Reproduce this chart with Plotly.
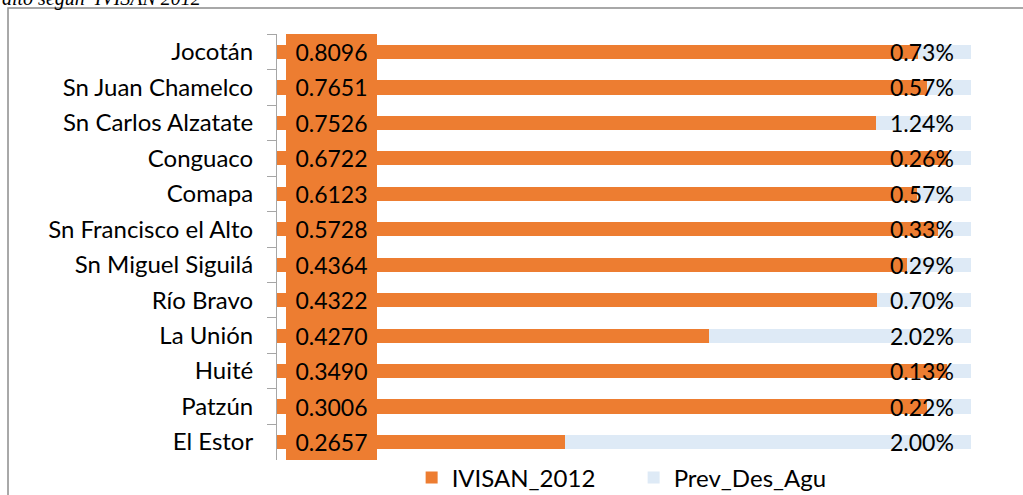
import plotly.graph_objs as go

# municipalities, top to bottom
municipios = ['Jocotán', 'Sn Juan Chamelco', 'Sn Carlos Alzatate', 'Conguaco', 'Comapa',
              'Sn Francisco el Alto', 'Sn Miguel Siguilá', 'Río Bravo', 'La Unión',
              'Huité', 'Patzún', 'El Estor']

# printed labels
ivisan_2012 = [0.8096, 0.7651, 0.7526, 0.6722, 0.6123, 0.5728, 0.4364, 0.4322,
               0.4270, 0.3490, 0.3006, 0.2657]
prev_des_agu = ['0.73%', '0.57%', '1.24%', '0.26%', '0.57%', '0.33%', '0.29%', '0.70%',
                '2.02%', '0.13%', '0.22%', '2.00%']

# bar segment shares as drawn (100% stacked)
ivisan_share = [0.924, 0.937, 0.863, 0.967, 0.922, 0.952, 0.908, 0.865, 0.622, 0.965, 0.937, 0.415]
prev_share = [0.076, 0.063, 0.137, 0.033, 0.078, 0.048, 0.092, 0.135, 0.378, 0.035, 0.063, 0.585]

ORANGE = '#ED7D31'
LIGHTBLUE = '#DEEAF6'
FONT = 'Lato'

trace_ivisan = go.Bar(
    y=municipios, x=ivisan_share, orientation='h', name='IVISAN_2012',
    marker=dict(color=ORANGE, line=dict(width=0)), hoverinfo='skip'
)
trace_prev = go.Bar(
    y=municipios, x=prev_share, orientation='h', name='Prev_Des_Agu',
    marker=dict(color=LIGHTBLUE, line=dict(width=0)), hoverinfo='skip'
)

annotations = []
for m, v, p in zip(municipios, ivisan_2012, prev_des_agu):
    # orange label boxes that form the column next to the axis
    annotations.append(dict(
        x=0.0785, y=m, xref='x', yref='y', text=f'{v:.4f}', showarrow=False,
        font=dict(family=FONT, size=23, color='#000000'),
        bgcolor=ORANGE, width=91, height=36, borderpad=0, borderwidth=0,
        xanchor='center', yanchor='middle'
    ))
    annotations.append(dict(
        x=0.979, y=m, xref='x', yref='y', text=p, showarrow=False,
        font=dict(family=FONT, size=23, color='#000000'),
        xanchor='right', yanchor='middle'
    ))

# cut-off caption above the chart
annotations.append(dict(
    x=-0.399, y=1.052, xref='paper', yref='paper', text='alto según  IVISAN 2012',
    showarrow=False, xanchor='left', yanchor='bottom',
    font=dict(family='Liberation Serif', size=20, color='#000000', style='italic')
))

layout = go.Layout(
    width=1023, height=495,
    margin=dict(l=277, r=52, t=34, b=35, autoexpand=False),
    paper_bgcolor='white', plot_bgcolor='white',
    barmode='stack', bargap=0.6,
    font=dict(family=FONT, size=24, color='#000000'),
    xaxis=dict(range=[0, 1], visible=False, fixedrange=True),
    yaxis=dict(
        type='category', autorange='reversed', fixedrange=True,
        showline=True, linecolor='#A6A6A6', linewidth=1,
        ticks='outside', tickson='boundaries', ticklen=9, tickcolor='#A6A6A6',
        showgrid=False, ticklabelstandoff=18,
        tickfont=dict(family=FONT, size=24, color='#000000')
    ),
    legend=dict(
        orientation='h', x=0.194, y=-0.042, xanchor='left', yanchor='middle',
        traceorder='normal',
        font=dict(family=FONT, size=24, color='#000000'),
        itemwidth=30, entrywidth=177, entrywidthmode='pixels'
    ),
    shapes=[dict(
        type='rect', xref='paper', yref='paper',
        x0=-0.3876, x1=1.2, y0=-0.3, y1=1.061,
        line=dict(color='#8C8C8C', width=1.5), fillcolor='rgba(0,0,0,0)', layer='below'
    )],
    annotations=annotations,
    showlegend=True
)

fig = go.Figure(data=[trace_ivisan, trace_prev], layout=layout)
fig.write_html('out.html', config=dict(displayModeBar=False),
               post_script="document.body.style.margin='0';")
